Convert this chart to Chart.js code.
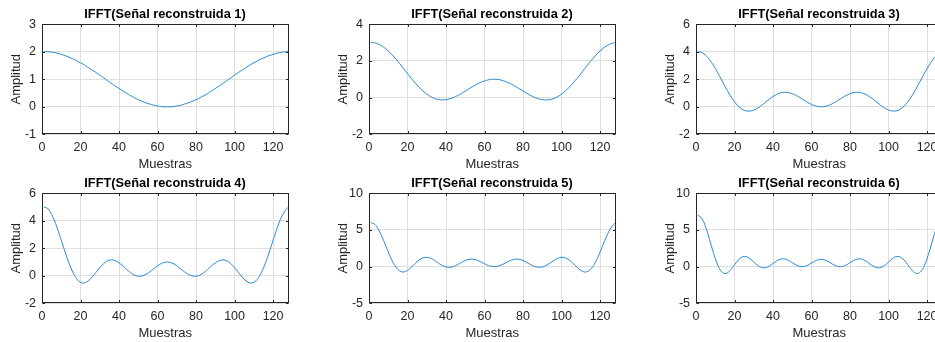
<!DOCTYPE html>
<html>
<head>
<meta charset="utf-8">
<script src="https://cdn.jsdelivr.net/npm/chart.js@4.4.0/dist/chart.umd.min.js"></script>
<style>
  html, body { margin: 0; padding: 0; background: #fff; }
  #figura { position: relative; width: 935px; height: 342px; overflow: hidden; background: #fff; }
  #figura canvas { position: absolute; }
</style>
</head>
<body>
<div id="figura"></div>
<script>
// Índice de muestra (eje x)
const muestras = [1,3,5,7,9,11,13,15,17,19,21,23,25,27,29,31,33,35,37,39,41,43,45,47,49,51,53,55,57,59,61,63,
  65,67,69,71,73,75,77,79,81,83,85,87,89,91,93,95,97,99,101,103,105,107,109,111,113,115,117,119,121,123,125,127,128];

// Señales reconstruidas con la IFFT (1 a 6 armónicos)
const senal1 = [2.00,2.00,1.98,1.96,1.92,1.88,1.83,1.77,1.71,1.63,1.56,1.47,1.38,1.29,1.20,1.10,1.00,0.90,0.80,0.71,0.62,0.53,0.44,0.37,0.29,0.23,0.17,0.12,0.08,0.04,0.02,0.00,0.00,
  0.00,0.02,0.04,0.08,0.12,0.17,0.23,0.29,0.37,0.44,0.53,0.62,0.71,0.80,0.90,1.00,1.10,1.20,1.29,1.38,1.47,1.56,1.63,1.71,1.77,1.83,1.88,1.92,1.96,1.98,2.00,2.00];
const senal2 = [3.00,2.98,2.90,2.79,2.63,2.44,2.21,1.97,1.71,1.44,1.17,0.92,0.68,0.46,0.27,0.12,0.00,-0.08,-0.12,-0.12,-0.09,-0.03,0.06,0.17,0.29,0.42,0.55,0.67,0.78,0.87,0.94,0.99,1.00,
  0.99,0.94,0.87,0.78,0.67,0.55,0.42,0.29,0.17,0.06,-0.03,-0.09,-0.12,-0.12,-0.08,0.00,0.12,0.27,0.46,0.68,0.92,1.17,1.44,1.71,1.97,2.21,2.44,2.63,2.79,2.90,2.98,2.99];
const senal3 = [4.00,3.93,3.74,3.42,3.01,2.54,2.02,1.50,1.00,0.56,0.19,-0.08,-0.25,-0.31,-0.28,-0.17,0.00,0.21,0.44,0.65,0.83,0.97,1.04,1.05,1.00,0.89,0.75,0.58,0.40,0.24,0.11,0.03,0.00,
  0.03,0.11,0.24,0.40,0.58,0.75,0.89,1.00,1.05,1.04,0.97,0.83,0.65,0.44,0.21,0.00,-0.17,-0.28,-0.31,-0.25,-0.08,0.19,0.56,1.00,1.50,2.02,2.54,3.01,3.42,3.74,3.93,3.98];
const senal4 = [5.00,4.86,4.44,3.81,3.01,2.15,1.31,0.57,0.00,-0.37,-0.52,-0.46,-0.25,0.07,0.42,0.75,1.00,1.14,1.14,1.03,0.83,0.59,0.34,0.13,0.00,-0.03,0.04,0.19,0.40,0.62,0.82,0.95,1.00,
  0.95,0.82,0.62,0.40,0.19,0.04,-0.03,0.00,0.13,0.34,0.59,0.83,1.03,1.14,1.14,1.00,0.75,0.42,0.07,-0.25,-0.46,-0.52,-0.37,0.00,0.57,1.31,2.15,3.01,3.81,4.44,4.86,4.96];
const senal5 = [6.00,5.74,5.00,3.90,2.63,1.38,0.33,-0.38,-0.71,-0.66,-0.32,0.17,0.68,1.06,1.25,1.22,1.00,0.66,0.31,0.04,-0.09,-0.05,0.14,0.42,0.71,0.93,1.02,0.97,0.78,0.52,0.26,0.07,0.00,
  0.07,0.26,0.52,0.78,0.97,1.02,0.93,0.71,0.42,0.14,-0.05,-0.09,0.04,0.31,0.66,1.00,1.22,1.25,1.06,0.68,0.17,-0.32,-0.66,-0.71,-0.38,0.33,1.38,2.63,3.90,5.00,5.74,5.93];
const senal6 = [7.00,6.57,5.38,3.71,1.92,0.40,-0.59,-0.94,-0.71,-0.10,0.60,1.15,1.38,1.26,0.87,0.39,0.00,-0.17,-0.07,0.23,0.62,0.93,1.06,0.97,0.71,0.37,0.10,-0.01,0.08,0.33,0.65,0.90,1.00,
  0.90,0.65,0.33,0.08,-0.01,0.10,0.37,0.71,0.97,1.06,0.93,0.62,0.23,-0.07,-0.17,0.00,0.39,0.87,1.26,1.38,1.15,0.60,-0.10,-0.71,-0.94,-0.59,0.40,1.92,3.71,5.38,6.57,6.89];

// Marcas de los ejes
const ticksX = [0, 20, 40, 60, 80, 100, 120];
const ticksY1 = [-1, 0, 1, 2, 3];
const ticksY2 = [-2, 0, 2, 4];
const ticksY3 = [-2, 0, 2, 4, 6];
const ticksY4 = [-2, 0, 2, 4, 6];
const ticksY5 = [-5, 0, 5, 10];
const ticksY6 = [-5, 0, 5, 10];

const titulos = [
  'IFFT(Señal reconstruida 1)', 'IFFT(Señal reconstruida 2)', 'IFFT(Señal reconstruida 3)',
  'IFFT(Señal reconstruida 4)', 'IFFT(Señal reconstruida 5)', 'IFFT(Señal reconstruida 6)'
];
const etiquetaX = 'Muestras';
const etiquetaY = 'Amplitud';

const senales = [senal1, senal2, senal3, senal4, senal5, senal6];
const ticksY = [ticksY1, ticksY2, ticksY3, ticksY4, ticksY5, ticksY6];

// Geometría de la rejilla de subgráficas
const ANCHO = 330, ALTO = 180;
const colIzq = [0, 327, 654];
const filaSup = [0, 169];
const MARGEN_IZQ = 42, MARGEN_DER = 41.5, EJE_X_ALTO = 45.6;

const FUENTE = "'Liberation Sans', Arial, Helvetica, sans-serif";
const GRIS = '#262626';

// Caja del eje y marcas interiores
const marco = {
  id: 'marco',
  afterDraw(chart) {
    const { ctx, chartArea: a, scales: { x, y } } = chart;
    const L = Math.round(a.left) + 0.5, R = Math.round(a.right) - 0.5;
    const T = Math.round(a.top) + 0.5, B = Math.round(a.bottom) - 0.5;
    const largo = 2.5;
    ctx.save();
    ctx.strokeStyle = GRIS;
    ctx.lineWidth = 1;
    ctx.beginPath();
    x.ticks.forEach(t => {
      const p = Math.round(x.getPixelForValue(t.value)) + 0.5;
      ctx.moveTo(p, B); ctx.lineTo(p, B - largo);
      ctx.moveTo(p, T); ctx.lineTo(p, T + largo);
    });
    y.ticks.forEach(t => {
      const p = Math.round(y.getPixelForValue(t.value)) + 0.5;
      ctx.moveTo(L, p); ctx.lineTo(L + largo, p);
      ctx.moveTo(R, p); ctx.lineTo(R - largo, p);
    });
    ctx.stroke();
    ctx.strokeRect(L, T, R - L, B - T);
    ctx.restore();
  }
};

const figura = document.getElementById('figura');

senales.forEach((serie, i) => {
  const cv = document.createElement('canvas');
  cv.width = ANCHO; cv.height = ALTO;
  cv.style.left = colIzq[i % 3] + 'px';
  cv.style.top = filaSup[Math.floor(i / 3)] + 'px';
  cv.style.width = ANCHO + 'px'; cv.style.height = ALTO + 'px';
  figura.appendChild(cv);

  const marcasY = ticksY[i];
  new Chart(cv, {
    type: 'line',
    data: {
      datasets: [{
        data: muestras.map((m, k) => ({ x: m, y: serie[k] })),
        borderColor: '#2a88d2',
        borderWidth: 1,
        pointRadius: 0,
        tension: 0.4,
        fill: false
      }]
    },
    options: {
      responsive: false,
      animation: false,
      devicePixelRatio: 1,
      layout: { padding: 0 },
      plugins: {
        legend: { display: false },
        tooltip: { enabled: false },
        title: {
          display: true,
          text: titulos[i],
          color: '#000',
          font: { family: FUENTE, size: 12.8, weight: 'bold', lineHeight: 1.2 },
          padding: { top: 7, bottom: 1.7 }
        }
      },
      scales: {
        x: {
          type: 'linear',
          min: 0, max: 128,
          afterBuildTicks: s => { s.ticks = ticksX.map(v => ({ value: v })); },
          afterFit: s => { s.height = EJE_X_ALTO; },
          grid: { color: '#dfdfdf', lineWidth: 1, drawTicks: false },
          border: { display: false },
          ticks: { color: GRIS, padding: 5.5, maxRotation: 0, autoSkip: false,
                   font: { family: FUENTE, size: 12.5, lineHeight: 1.2 } },
          title: { display: true, text: etiquetaX, color: GRIS,
                   font: { family: FUENTE, size: 13, lineHeight: 1.2 },
                   padding: { top: 0, bottom: 7.7 } }
        },
        y: {
          type: 'linear',
          min: marcasY[0], max: marcasY[marcasY.length - 1],
          afterBuildTicks: s => { s.ticks = marcasY.map(v => ({ value: v })); },
          afterFit: s => { s.width = MARGEN_IZQ; },
          grid: { color: '#dfdfdf', lineWidth: 1, drawTicks: false },
          border: { display: false },
          ticks: { color: GRIS, padding: 6, autoSkip: false,
                   font: { family: FUENTE, size: 12.5, lineHeight: 1.2 } },
          title: { display: true, text: etiquetaY, color: GRIS,
                   font: { family: FUENTE, size: 13, lineHeight: 1.2 },
                   padding: { top: 8.2, bottom: 0 } }
        },
        // Margen derecho vacío, para que el título quede centrado sobre el área de trazado
        margenDer: {
          type: 'linear',
          position: 'right',
          display: true,
          afterFit: s => { s.width = MARGEN_DER; },
          grid: { display: false, drawOnChartArea: false },
          border: { display: false },
          ticks: { display: false }
        }
      }
    },
    plugins: [marco]
  });
});
</script>
</body>
</html>
